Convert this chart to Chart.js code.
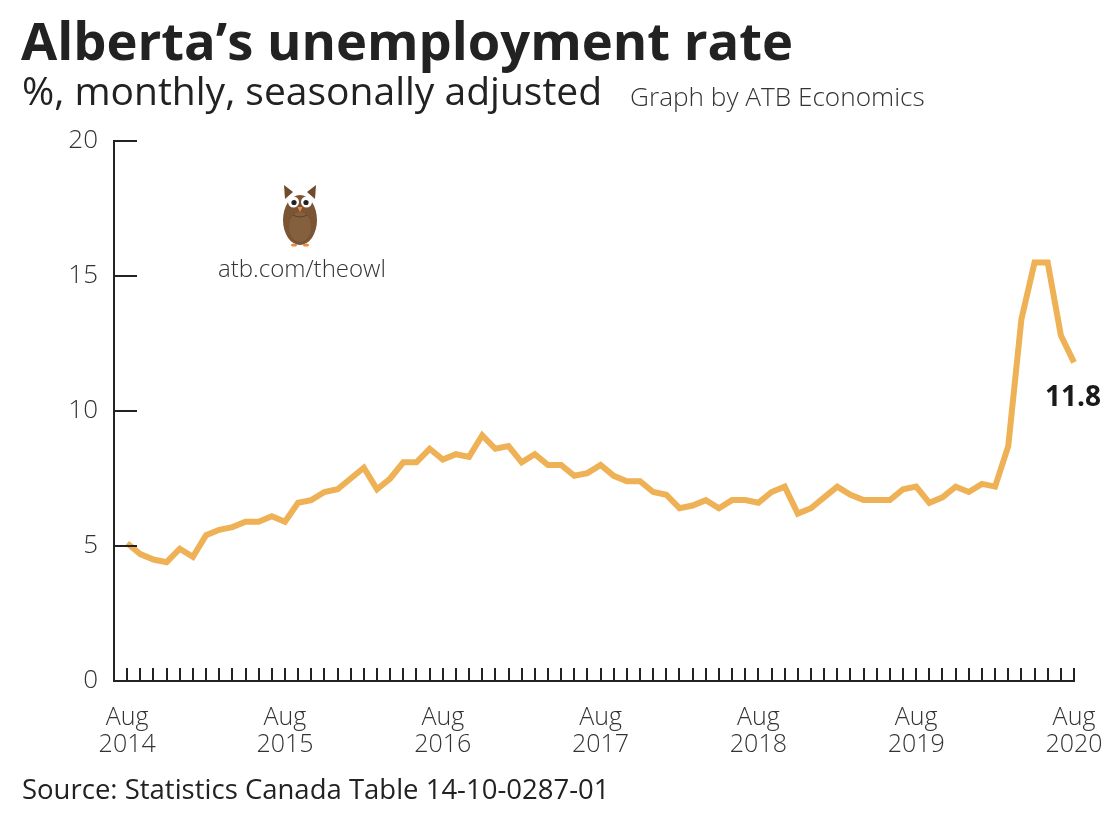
<!DOCTYPE html>
<html>
<head>
<meta charset="utf-8">
<script src="https://cdn.jsdelivr.net/npm/chart.js@4"></script>
<style>
  html, body { margin: 0; padding: 0; background: #fff; }
  body { width: 1120px; height: 826px; position: relative; overflow: hidden; font-family: 'Open Sans', sans-serif; color: #222; }
  #wrap { position: absolute; left: 0; top: 0; width: 1120px; height: 826px; }
  .txt { position: absolute; white-space: nowrap; line-height: 1; }
  #title { left: 21px; top: 14px; font-size: 52.5px; font-weight: 700; color: #222; }
  #subtitle { left: 22px; top: 70px; font-size: 39px; font-weight: 400; color: #222; }
  #credit { left: 630px; top: 83px; font-size: 26.2px; font-weight: 300; color: #333; }
  #source { left: 22px; top: 775px; font-size: 27.5px; font-weight: 400; color: #222; }
  #owltext { left: 218px; top: 256px; font-size: 24px; font-weight: 300; color: #333; }
  #owl { position: absolute; left: 281px; top: 182px; }
</style>
</head>
<body>
<div id="wrap"><canvas id="chart" width="1120" height="826"></canvas></div>
<div class="txt" id="title">Alberta’s unemployment rate</div>
<div class="txt" id="subtitle">%, monthly, seasonally adjusted</div>
<div class="txt" id="credit">Graph by ATB Economics</div>
<div class="txt" id="source">Source: Statistics Canada Table 14-10-0287-01</div>
<svg id="owl" width="38" height="66" viewBox="0 0 38 66">
  <polygon points="3,3 12,10 4,17" fill="#6f4b2c"/>
  <polygon points="35,3 26,10 34,17" fill="#6f4b2c"/>
  <ellipse cx="19" cy="38" rx="17" ry="25" fill="#7a5535"/>
  <ellipse cx="19" cy="45" rx="11" ry="15" fill="#85603e"/>
  <path d="M12 33 Q19 37 26 33" stroke="#5e3f22" stroke-width="1" fill="none"/>
  <circle cx="12.5" cy="20" r="5.5" fill="#fff"/>
  <circle cx="25.5" cy="20" r="5.5" fill="#fff"/>
  <circle cx="13" cy="20.5" r="2.6" fill="#222"/>
  <circle cx="25" cy="20.5" r="2.6" fill="#222"/>
  <polygon points="16.5,25 21.5,25 19,30" fill="#f08a3c"/>
  <ellipse cx="13" cy="63" rx="3" ry="1.6" fill="#f08a3c"/>
  <ellipse cx="25" cy="63" rx="3" ry="1.6" fill="#f08a3c"/>
</svg>
<div class="txt" id="owltext">atb.com/theowl</div>

<script>
  // Alberta unemployment rate, Aug 2014 .. Aug 2020 (monthly, SA)
  const startYear = 2014;
  const months = ['Aug','Sep','Oct','Nov','Dec','Jan','Feb','Mar','Apr','May','Jun','Jul'];
  const rate = [
    5.1, 4.7, 4.5, 4.4, 4.9,
    4.6, 5.4, 5.6, 5.7, 5.9, 5.9, 6.1, 5.9, 6.6, 6.7, 7.0, 7.1,
    7.5, 7.9, 7.1, 7.5, 8.1, 8.1, 8.6, 8.2, 8.4, 8.3, 9.1, 8.6,
    8.7, 8.1, 8.4, 8.0, 8.0, 7.6, 7.7, 8.0, 7.6, 7.4, 7.4, 7.0,
    6.9, 6.4, 6.5, 6.7, 6.4, 6.7, 6.7, 6.6, 7.0, 7.2, 6.2, 6.4,
    6.8, 7.2, 6.9, 6.7, 6.7, 6.7, 7.1, 7.2, 6.6, 6.8, 7.2, 7.0,
    7.3, 7.2, 8.7, 13.4, 15.5, 15.5, 12.8, 11.8
  ];
  const yTicks = [0, 5, 10, 15, 20];
  const lastLabel = '11.8';

  const lineColor = '#efb155';
  const axisColor = '#222';

  var points = rate.map(function (v, i) { return { x: i, y: v }; });

  function tickLabel(i) {
    if (i < 0 || i % 12 !== 0) return '';
    return [months[0], String(startYear + i / 12)];
  }

  // short tick marks drawn inside the plot, plus end label
  var tickMarks = {
    id: 'tickMarks',
    afterDraw: function (chart) {
      var ctx = chart.ctx;
      var xs = chart.scales.x, ys = chart.scales.y;
      ctx.save();
      ctx.strokeStyle = axisColor;
      ctx.lineWidth = 2;
      ctx.beginPath();
      xs.ticks.forEach(function (t) {
        if (t.value < 0) return;
        var px = Math.round(xs.getPixelForValue(t.value));
        ctx.moveTo(px, ys.bottom);
        ctx.lineTo(px, ys.bottom - 13);
      });
      ys.ticks.forEach(function (t) {
        if (t.value <= 0) return;
        var py = Math.round(ys.getPixelForValue(t.value));
        ctx.moveTo(xs.left, py);
        ctx.lineTo(xs.left + 23, py);
      });
      ctx.stroke();

      var meta = chart.getDatasetMeta(0);
      var last = meta.data[meta.data.length - 1];
      ctx.fillStyle = '#1a1a1a';
      ctx.font = '700 28px "Open Sans"';
      ctx.textAlign = 'center';
      ctx.textBaseline = 'middle';
      ctx.fillText(lastLabel, last.x - 1, last.y + 36);
      ctx.restore();
    }
  };

  new Chart(document.getElementById('chart'), {
    type: 'line',
    data: {
      datasets: [{
        data: points,
        borderColor: lineColor,
        borderWidth: 6,
        pointRadius: 0,
        tension: 0,
        fill: false,
        clip: false,
        borderJoinStyle: 'miter'
      }]
    },
    options: {
      responsive: false,
      animation: false,
      layout: { padding: { left: 0, top: 141, right: 46, bottom: 0 } },
      plugins: { legend: { display: false }, tooltip: { enabled: false } },
      scales: {
        x: {
          type: 'linear',
          min: -1,
          max: rate.length - 1,
          grid: { display: false, drawTicks: false },
          border: { display: true, color: axisColor, width: 2 },
          afterFit: function (s) { s.height = 145; s.paddingLeft = 0; s.paddingRight = 0; },
          ticks: {
            stepSize: 1,
            autoSkip: false,
            maxRotation: 0,
            padding: 24,
            color: '#333',
            font: { family: 'Open Sans', size: 25, weight: 300, lineHeight: 1.05 },
            callback: function (v) { return tickLabel(v); }
          }
        },
        y: {
          min: 0,
          max: 20,
          grid: { display: false, drawTicks: false },
          border: { display: true, color: axisColor, width: 2 },
          afterFit: function (s) { s.width = 114; s.paddingTop = 0; s.paddingBottom = 0; },
          afterBuildTicks: function (s) { s.ticks = yTicks.map(function (v) { return { value: v }; }); },
          ticks: {
            padding: 16,
            color: '#333',
            font: { family: 'Open Sans', size: 26, weight: 300 }
          }
        }
      }
    },
    plugins: [tickMarks]
  });
</script>
</body>
</html>
